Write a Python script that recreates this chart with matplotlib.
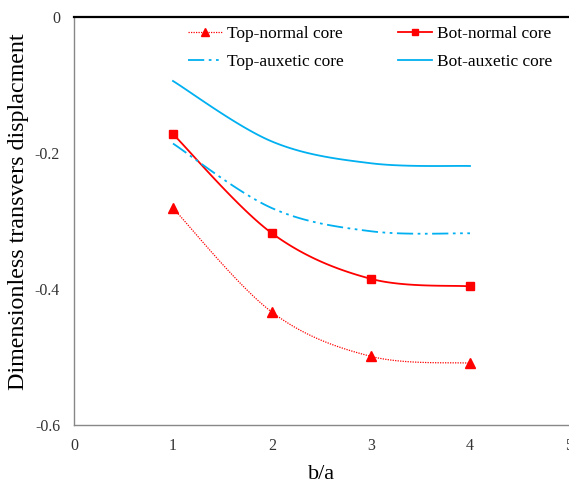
import numpy as np
import matplotlib
matplotlib.use("Agg")
import matplotlib.pyplot as plt
from matplotlib.lines import Line2D

plt.rcParams['font.family'] = ['Liberation Serif', 'DejaVu Serif']

ratio = [1, 2, 3, 4]
top_normal = [-0.281, -0.434, -0.499, -0.509]
bot_normal = [-0.172, -0.318, -0.385, -0.396]
top_auxetic = [-0.186, -0.281, -0.315, -0.318]
bot_auxetic = [-0.094, -0.183, -0.215, -0.219]

x_ticks = [0, 1, 2, 3, 4, 5]
y_ticks = [0, -0.2, -0.4, -0.6]
y_tick_labels = ['0', '-0.2', '-0.4', '-0.6']


def smooth(xs, ys, n=40):
    """Spreadsheet-style smoothed curve: cubic Bezier segments with
    Catmull-Rom control points."""
    p = np.column_stack([xs, ys]).astype(float)
    m = len(p)
    out = []
    for i in range(m - 1):
        p0 = p[i - 1] if i > 0 else p[i]
        p1 = p[i]
        p2 = p[i + 1]
        p3 = p[i + 2] if i + 2 < m else p[i + 1]
        c1 = p1 + (p2 - p0) / 6.0
        c2 = p2 - (p3 - p1) / 6.0
        t = np.linspace(0, 1, n)[:, None]
        seg = ((1 - t) ** 3) * p1 + 3 * ((1 - t) ** 2) * t * c1 \
            + 3 * (1 - t) * t ** 2 * c2 + t ** 3 * p2
        out.append(seg if i == 0 else seg[1:])
    out = np.vstack(out)
    return out[:, 0], out[:, 1]


fig = plt.figure(figsize=(5.69, 4.88), dpi=100)
ax = fig.add_axes([0.130, 0.129, 0.870, 0.836])

red = '#FF0000'
blue = '#00B0F0'
dotted = (0, (1, 1))
dashdotdot = (0, (9, 2.5, 1.5, 2.5, 1.5, 2.5))

sx, sy = smooth(ratio, top_normal)
ax.plot(sx, sy, color=red, lw=0.9, ls=dotted)
ax.plot(ratio, top_normal, ls='none', marker='^', ms=6.5, color=red)

sx, sy = smooth(ratio, bot_normal)
ax.plot(sx, sy, color=red, lw=1.3)
ax.plot(ratio, bot_normal, ls='none', marker='s', ms=6, color=red)

sx, sy = smooth(ratio, top_auxetic)
ax.plot(sx, sy, color=blue, lw=1.3, ls=dashdotdot)

sx, sy = smooth(ratio, bot_auxetic)
ax.plot(sx, sy, color=blue, lw=1.3)

ax.set_xlim(0, 5)
ax.set_ylim(-0.6, 0)
ax.set_xticks(x_ticks)
ax.set_yticks(y_ticks)
ax.set_yticklabels(y_tick_labels)
ax.tick_params(length=0, labelsize=11.5, colors='#333333')
ax.tick_params(axis='x', pad=9)
ax.tick_params(axis='y', pad=10)

for side in ('left', 'bottom'):
    ax.spines[side].set_color('#888888')
    ax.spines[side].set_linewidth(1.0)
ax.spines['top'].set_color('black')
ax.spines['top'].set_linewidth(1.6)
ax.spines['right'].set_visible(False)

ax.set_xlabel('b/a', fontsize=16, labelpad=8)
ax.set_ylabel('Dimensionless transvers displacment', fontsize=17.3)
ax.yaxis.set_label_coords(-0.091, 0.523)

# legend entries ordered so rows read: top/bot normal, then top/bot auxetic
handles = [
    Line2D([], [], color=red, lw=0.9, ls=dotted, marker='^', ms=6.5),
    Line2D([], [], color=blue, lw=1.3, ls=dashdotdot),
    Line2D([], [], color=red, lw=1.3, marker='s', ms=6),
    Line2D([], [], color=blue, lw=1.3),
]
labels = ['Top-normal core', 'Top-auxetic core', 'Bot-normal core', 'Bot-auxetic core']
ax.legend(handles, labels, ncol=2, frameon=False, fontsize=12.5,
          loc='upper left', bbox_to_anchor=(0.199, 1.017),
          handlelength=2.0, handletextpad=0.25, columnspacing=3.1,
          labelspacing=0.68, markerscale=0.8)

fig.savefig('out.png', dpi=100)
